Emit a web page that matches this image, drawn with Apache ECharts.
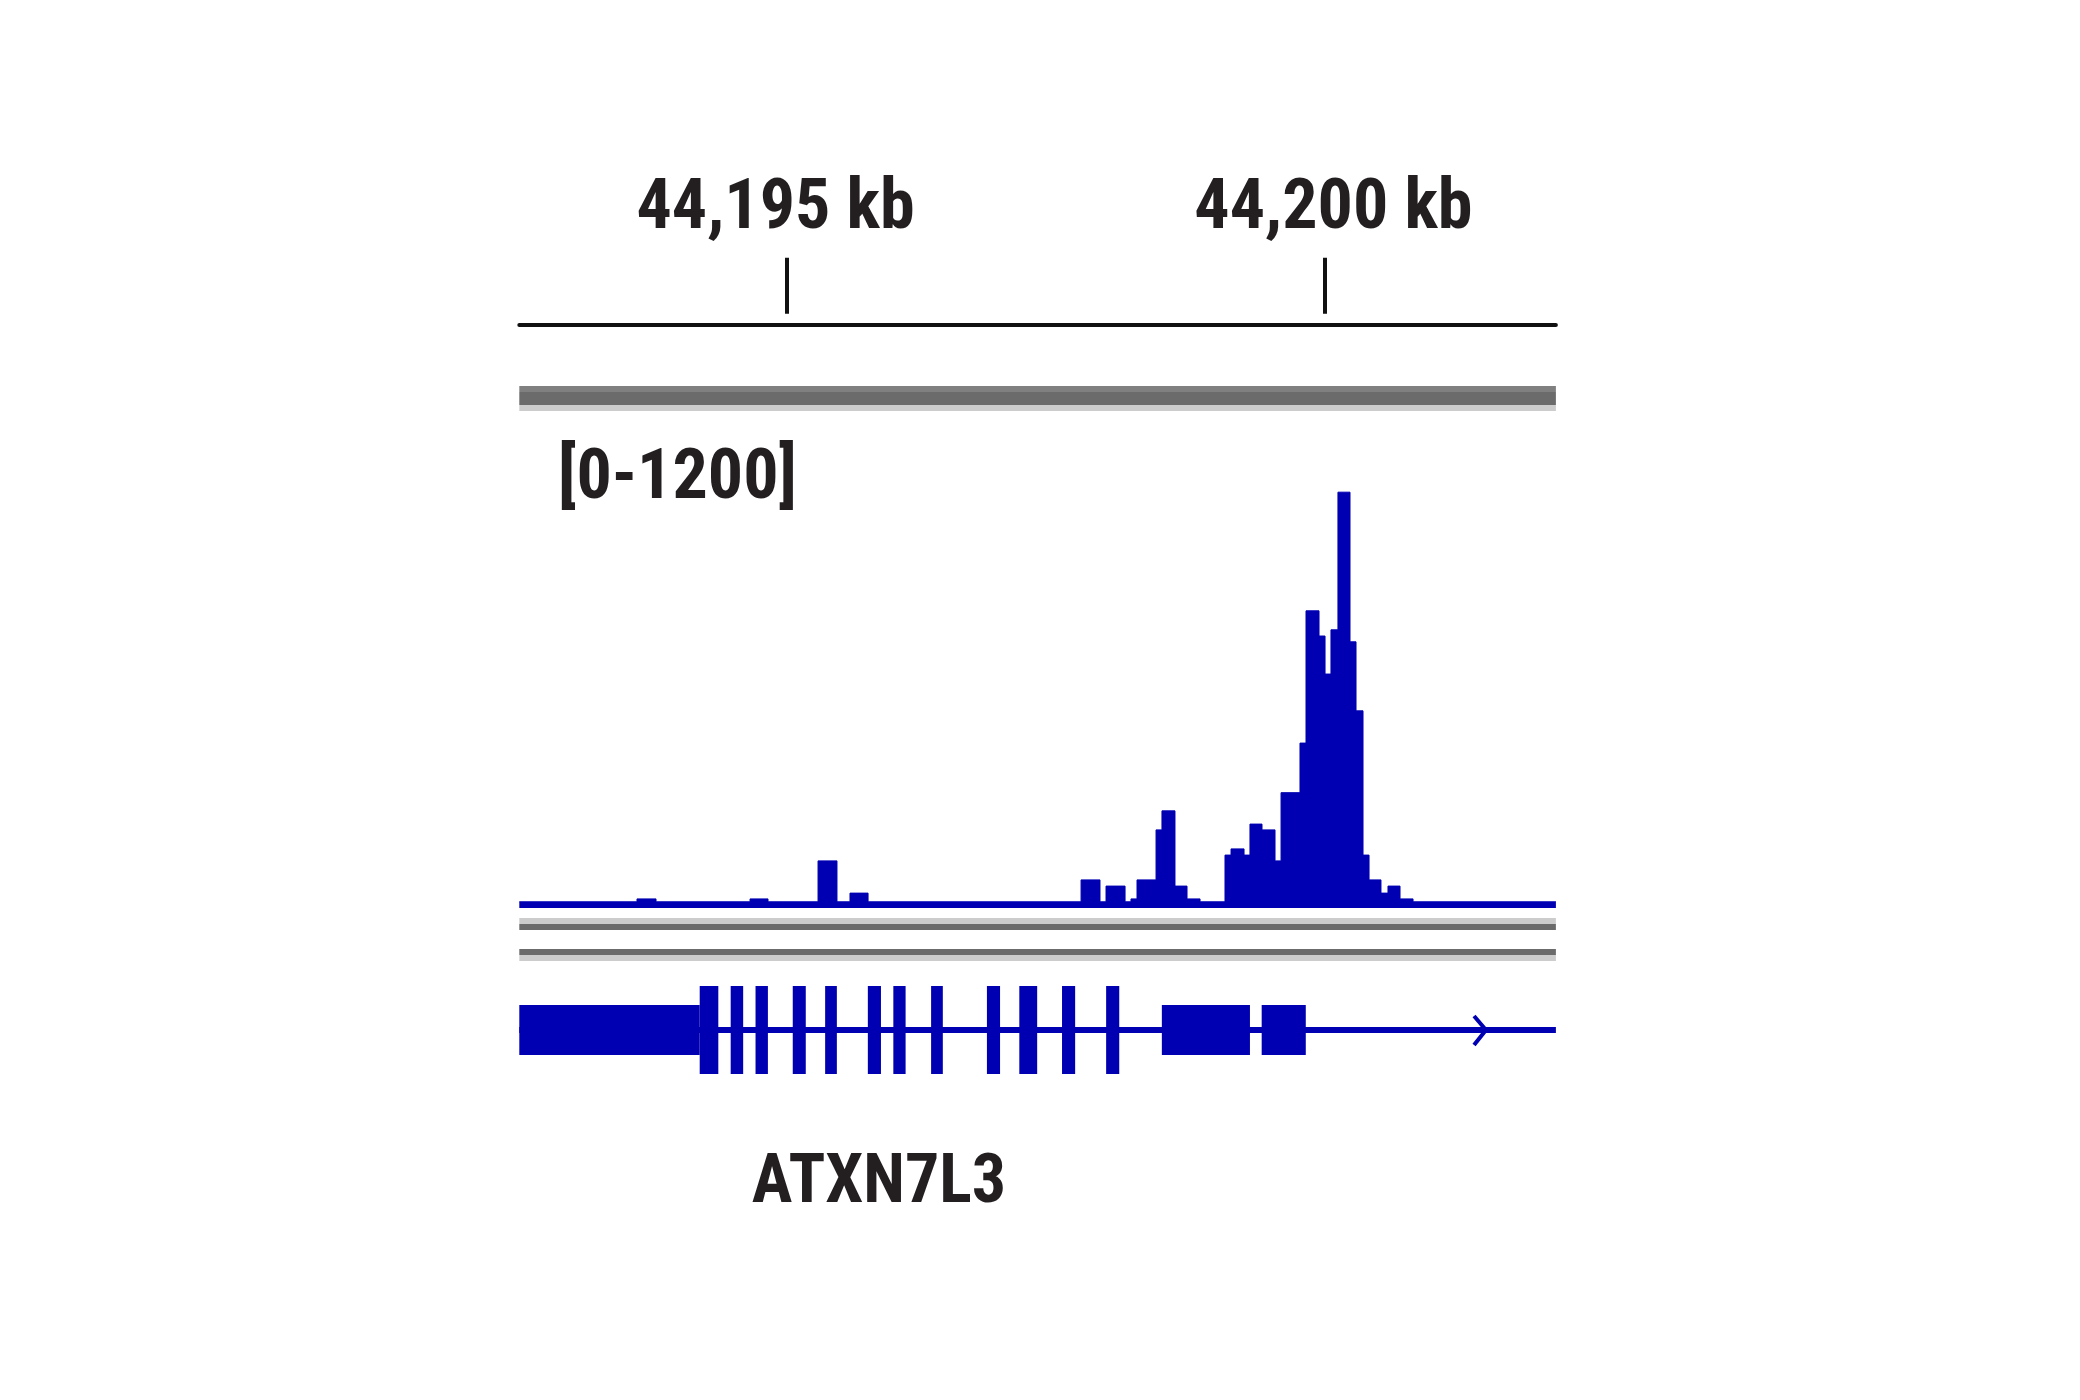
<!DOCTYPE html>
<html>
<head>
<meta charset="utf-8">
<script src="https://cdn.jsdelivr.net/npm/echarts@6/dist/echarts.min.js"></script>
<style>
html,body{margin:0;padding:0;background:#ffffff;}
#chart{width:2080px;height:1400px;}
</style>
</head>
<body>
<div id="chart"></div>
<script>
// ---- data (genomic positions in bp) ----
const viewStart = 44192516;
const viewEnd = 44202152;
const tickPositions = [44195000, 44200000];
const tickLabels = ['44,195 kb', '44,200 kb'];
const dataRangeLabel = '[0-1200]';
const dataRange = [0, 1200];

// coverage signal: each value holds from its start to the next start
const signalStart = [
  44192516, 44193610, 44193787, 44194661, 44194828, 44195293, 44195469, 44195590,
  44195758, 44197738, 44197914, 44197970, 44198147, 44198202, 44198258, 44198435,
  44198490, 44198611, 44198723, 44198844, 44199076, 44199132, 44199253, 44199308,
  44199420, 44199541, 44199597, 44199773, 44199829, 44199950, 44200006, 44200061,
  44200126, 44200238, 44200294, 44200359, 44200415, 44200526, 44200591, 44200703,
  44200824, 44202152
];
const signalValue = [
  15, 22, 15, 22, 15, 114, 15, 36,
  15, 68, 15, 53, 15, 22, 68, 189,
  235, 53, 22, 15, 128, 143, 128, 203,
  189, 114, 279, 399, 719, 658, 566, 673,
  1006, 644, 477, 128, 68, 36, 53, 22,
  15, 15
];

// gene model
const geneName = 'ATXN7L3';
const geneStart = [
  44192516,
  44192516,
  44194193, 44194481, 44194712, 44195058, 44195359, 44195756,
  44195993, 44196344, 44196863, 44197164, 44197561, 44197971,
  44198489, 44199417,
  44201391
];
const geneEnd = [
  44202152,
  44194193,
  44194366, 44194597, 44194827, 44195179, 44195468, 44195878,
  44196107, 44196453, 44196985, 44197330, 44197683, 44198093,
  44199308, 44199827,
  44201502
];
const geneKind = [
  'intron',
  'utr',
  'cds', 'cds', 'cds', 'cds', 'cds', 'cds',
  'cds', 'cds', 'cds', 'cds', 'cds', 'cds',
  'utr', 'utr',
  'strand'
];

// ---- styling ----
const BLUE = '#0000b2';
const INK = '#231f20';
const FONT = "'Roboto Condensed','Open Sans Condensed','DejaVu Sans Condensed',sans-serif";
const LEFT = 519.3, RIGHT = 2080 - 1555.9;
const halfHeight = { cds: 44, utr: 25, intron: 3 };

function band(top, height, color) {
  return { left: LEFT, right: RIGHT, top: top, height: height, show: true,
           backgroundColor: color, borderWidth: 0, containLabel: false, outerBoundsMode: 'none' };
}
function plainGrid(top, height) {
  return { left: LEFT, right: RIGHT, top: top, height: height, show: false,
           containLabel: false, outerBoundsMode: 'none' };
}

const grids = [
  plainGrid(313.7, 11),          // 0 ruler
  band(386, 6, '#808080'),       // 1
  band(392, 13, '#6b6b6b'),      // 2
  band(405, 6, '#cccccc'),       // 3
  plainGrid(412, 496),           // 4 signal
  band(918, 6, '#cccccc'),       // 5
  band(924, 6, '#6b6b6b'),       // 6
  band(949, 6, '#6b6b6b'),       // 7
  band(955, 6, '#cccccc'),       // 8
  plainGrid(986, 88)             // 9 gene
];

function hiddenX(gridIndex) {
  return { type: 'value', gridIndex: gridIndex, min: viewStart, max: viewEnd, show: false,
           axisLine: { onZero: false }, splitLine: { show: false } };
}

const textBase = { fontFamily: FONT, fontSize: 70, fontWeight: 'bold', color: INK };
const tickRichKeys = ['l', 'r'];

const option = {
  animation: false,
  backgroundColor: '#ffffff',
  grid: grids,
  title: [
    { text: dataRangeLabel, left: 558, top: 445, padding: 0, textStyle: textBase },
    { text: geneName, left: 879, top: 1151, padding: 0, textAlign: 'center',
      textStyle: Object.assign({}, textBase, { fontSize: 68 }) }
  ],
  xAxis: [
    { type: 'value', gridIndex: 0, position: 'top', min: viewStart, max: viewEnd,
      axisLine: { show: false, onZero: false },
      axisTick: { show: true, customValues: tickPositions, length: 56,
                  lineStyle: { color: '#111111', width: 4 } },
      axisLabel: Object.assign({ show: true, customValues: tickPositions, margin: 68,
                   formatter: function (v) {
                     const i = tickPositions.indexOf(v);
                     return '{' + tickRichKeys[i] + '|' + tickLabels[i] + '}';
                   },
                   rich: {
                     l: Object.assign({ padding: [0, 22, 0, 0] }, textBase),
                     r: Object.assign({ padding: [0, 0, 0, 18] }, textBase)
                   } }, textBase),
      splitLine: { show: false } },
    { type: 'value', gridIndex: 0, position: 'bottom', min: viewStart, max: viewEnd,
      axisLine: { show: true, onZero: false, lineStyle: { color: '#111111', width: 4 } },
      axisTick: { show: false }, axisLabel: { show: false }, splitLine: { show: false } },
    hiddenX(4),
    hiddenX(9)
  ],
  yAxis: [
    { type: 'value', gridIndex: 0, min: 0, max: 1, show: false, splitLine: { show: false } },
    { type: 'value', gridIndex: 4, min: dataRange[0], max: dataRange[1], show: false,
      splitLine: { show: false } },
    { type: 'value', gridIndex: 9, min: -44, max: 44, show: false, splitLine: { show: false } }
  ],
  series: [
    {
      type: 'line', xAxisIndex: 2, yAxisIndex: 1, step: 'end',
      data: signalStart.map(function (s, i) { return [s, signalValue[i]]; }),
      showSymbol: false, symbol: 'none', silent: true,
      lineStyle: { color: BLUE, width: 1 },
      areaStyle: { color: BLUE, opacity: 1 }
    },
    {
      type: 'custom', xAxisIndex: 3, yAxisIndex: 2, silent: true,
      data: geneStart.map(function (s, i) { return [s, geneEnd[i]]; }),
      renderItem: function (params, api) {
        const kind = geneKind[params.dataIndex];
        const s = api.value(0), e = api.value(1);
        if (kind === 'strand') {
          const a = api.coord([s, 14]), t = api.coord([e, 0]), b = api.coord([s, -15]);
          return { type: 'polyline', shape: { points: [a, t, b] },
                   style: { stroke: BLUE, lineWidth: 4, fill: null, lineJoin: 'miter' } };
        }
        const h = halfHeight[kind];
        const p1 = api.coord([s, h]);
        const p2 = api.coord([e, -h]);
        const rect = echarts.graphic.clipRectByRect(
          { x: p1[0], y: p1[1], width: p2[0] - p1[0], height: p2[1] - p1[1] },
          { x: params.coordSys.x, y: params.coordSys.y - 50,
            width: params.coordSys.width, height: params.coordSys.height + 100 });
        return rect && { type: 'rect', shape: rect, style: { fill: BLUE } };
      }
    }
  ]
};

const chart = echarts.init(document.getElementById('chart'), null, { renderer: 'canvas' });
chart.setOption(option);
</script>
</body>
</html>
